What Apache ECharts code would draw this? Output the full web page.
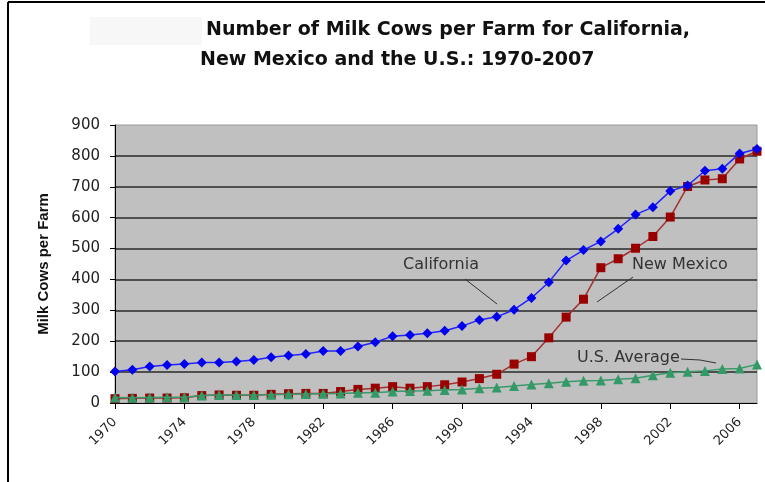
<!DOCTYPE html>
<html>
<head>
<meta charset="utf-8">
<script src="https://cdn.jsdelivr.net/npm/echarts@6/dist/echarts.min.js"></script>
<style>
  html, body { margin: 0; padding: 0; background: #fff; }
  #chart { width: 765px; height: 482px; }
</style>
</head>
<body>
<div id="chart"></div>
<script>
// 年份
var years = ['1970', '1971', '1972', '1973', '1974', '1975', '1976', '1977', '1978', '1979',
    '1980', '1981', '1982', '1983', '1984', '1985', '1986', '1987', '1988', '1989',
    '1990', '1991', '1992', '1993', '1994', '1995', '1996', '1997', '1998', '1999',
    '2000', '2001', '2002', '2003', '2004', '2005', '2006', '2007'];

// 每个农场奶牛数
var california = [102, 108, 118, 123, 126, 131, 131, 134, 139, 148,
    154, 159, 168, 168, 183, 197, 216, 220, 226, 234,
    249, 269, 279, 302, 340, 391, 461, 495, 523, 564,
    610, 634, 686, 704, 752, 758, 808, 822];
var newMexico = [14, 15, 16, 16, 17, 24, 26, 25, 25, 28,
    30, 31, 31, 37, 44, 48, 53, 48, 53, 59,
    68, 79, 93, 126, 150, 211, 278, 336, 438, 467,
    501, 539, 602, 701, 722, 726, 790, 815];
var usAverage = [18, 17, 18, 19, 19, 24, 26, 26, 26, 27,
    28, 29, 30, 31, 33, 33, 37, 39, 40, 42,
    44, 48, 50, 55, 60, 64, 69, 72, 73, 77,
    80, 90, 98, 101, 104, 110, 112, 125];

var font = 'DejaVu Sans';

var option = {
    backgroundColor: '#ffffff',
    animation: false,
    title: [{
        text: 'Number of Milk Cows per Farm for California,',
        left: 206,
        top: 21,
        padding: 0,
        textStyle: { fontFamily: font, fontSize: 19, fontWeight: 'bold', color: '#111' }
    }, {
        text: 'New Mexico and the U.S.: 1970-2007',
        left: 200,
        top: 51,
        padding: 0,
        textStyle: { fontFamily: font, fontSize: 19, fontWeight: 'bold', color: '#111' }
    }],
    grid: {
        left: 115,
        right: 8,
        top: 125,
        bottom: 79,
        show: true,
        backgroundColor: '#c0c0c0',
        borderColor: '#9a9a9a',
        borderWidth: 1
    },
    xAxis: {
        type: 'category',
        data: years,
        boundaryGap: false,
        axisLine: { lineStyle: { color: '#000', width: 1 } },
        axisTick: { interval: 3, length: 6, lineStyle: { color: '#000' } },
        axisLabel: {
            interval: 3,
            rotate: 45,
            margin: 17,
            fontFamily: font,
            fontSize: 13,
            color: '#222'
        },
        splitLine: { show: false }
    },
    yAxis: {
        type: 'value',
        min: 0,
        max: 900,
        interval: 100,
        name: 'Milk Cows per Farm',
        nameLocation: 'middle',
        nameRotate: 90,
        nameGap: 64,
        nameTextStyle: { fontFamily: 'Liberation Sans', fontSize: 15, fontWeight: 'bold', color: '#111' },
        axisLine: { show: true, lineStyle: { color: '#000', width: 1 } },
        axisTick: { show: true, length: 5, lineStyle: { color: '#000' } },
        axisLabel: { margin: 15, fontFamily: font, fontSize: 15, color: '#222' },
        splitLine: {
            show: true,
            showMinLine: false,
            showMaxLine: false,
            lineStyle: { color: '#2a2a2a', width: 1.7 }
        }
    },
    series: [{
        name: 'California',
        type: 'line',
        data: california,
        symbol: 'diamond',
        symbolSize: 10,
        itemStyle: { color: '#0000ee' },
        lineStyle: { color: '#2222ff', width: 1.5 },
        z: 4
    }, {
        name: 'New Mexico',
        type: 'line',
        data: newMexico,
        symbol: 'rect',
        symbolSize: 9,
        itemStyle: { color: '#990000' },
        lineStyle: { color: '#a33030', width: 1.5 },
        z: 3
    }, {
        name: 'U.S. Average',
        type: 'line',
        data: usAverage,
        symbol: 'triangle',
        symbolSize: 10,
        itemStyle: { color: '#339966' },
        lineStyle: { color: '#3a9a6a', width: 1.5 },
        z: 5
    }],
    graphic: [
        // 外框
        { type: 'line', shape: { x1: 8, y1: 2, x2: 8, y2: 482 }, style: { stroke: '#000', lineWidth: 2 } },
        { type: 'line', shape: { x1: 8, y1: 2, x2: 765, y2: 2 }, style: { stroke: '#000', lineWidth: 2 } },
        { type: 'rect', shape: { x: 90, y: 17, width: 112, height: 28 }, style: { fill: '#f7f7f7' }, z: -1 },
        // 标注
        { type: 'text', left: 403, top: 257, style: { text: 'California', fontFamily: font, fontSize: 16, fill: '#333' }, z: 10 },
        { type: 'line', shape: { x1: 465, y1: 279, x2: 497, y2: 304 }, style: { stroke: '#333', lineWidth: 1 }, z: 10 },
        { type: 'text', left: 632, top: 257, style: { text: 'New Mexico', fontFamily: font, fontSize: 16, fill: '#333' }, z: 10 },
        { type: 'line', shape: { x1: 633, y1: 277, x2: 597, y2: 302 }, style: { stroke: '#333', lineWidth: 1 }, z: 10 },
        { type: 'text', left: 577, top: 350, style: { text: 'U.S. Average', fontFamily: font, fontSize: 16, fill: '#333' }, z: 10 },
        { type: 'polyline', shape: { points: [[681, 359], [700, 360], [716, 363]] }, style: { stroke: '#333', lineWidth: 1, fill: null }, z: 10 }
    ]
};

var myChart = echarts.init(document.getElementById('chart'));
myChart.setOption(option);
</script>
</body>
</html>
